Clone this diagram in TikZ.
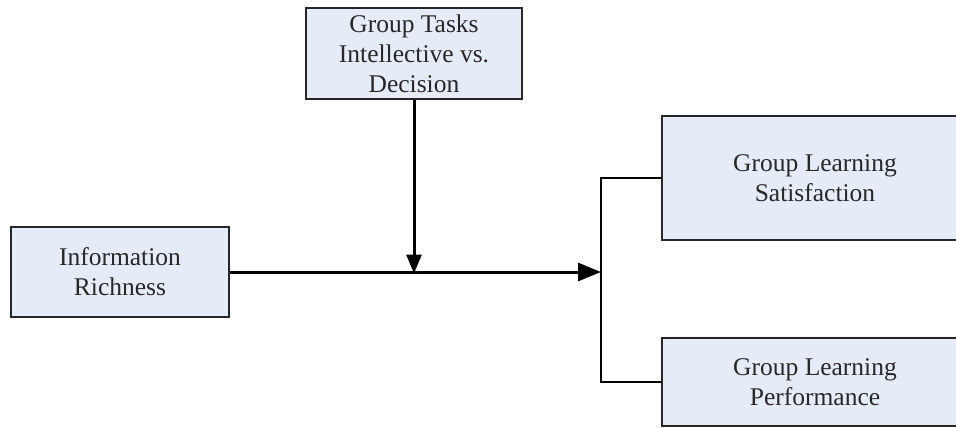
\documentclass[tikz,border=0pt]{standalone}
\usepackage{fontspec}
\setmainfont{Liberation Serif}
\usetikzlibrary{arrows.meta,positioning}

\definecolor{boxfill}{RGB}{230,236,247}
\definecolor{textgray}{RGB}{40,40,40}

\tikzset{
    factor/.style={draw=black!85, line width=1.6pt, fill=boxfill, text=textgray,
        align=center, inner sep=0pt, font=\fontsize{25.5}{30}\selectfont},
    mainarrow/.style={line width=3pt, -{Triangle[length=23pt,width=18pt]}},
    branch/.style={line width=1.6pt}
}

\begin{document}
\begin{tikzpicture}[x=1pt,y=-1pt]
    \useasboundingbox (0,0) rectangle (956,428);
    \clip (0,0) rectangle (956,428);

    \node[factor, minimum width=218pt, minimum height=90pt] (info) at (120,272) {Information\\Richness};
    \node[factor, minimum width=216pt, minimum height=91pt] (tasks) at (414,53.5) {Group Tasks\\Intellective vs.\\Decision};
    \node[factor, minimum width=306pt, minimum height=124pt] (satis) at (815,178) {Group Learning\\Satisfaction};
    \node[factor, minimum width=306pt, minimum height=88pt] (perf) at (815,382) {Group Learning\\Performance};

    \coordinate (junc) at (601,272);
    \coordinate (hit) at (tasks.south |- info.east);

    % main effect and moderator
    \draw[mainarrow] (info.east) -- (junc);
    \draw[mainarrow, -{Triangle[length=19pt,width=15pt]}] (tasks.south) -- ([yshift=-1.5pt]hit);

    % outcomes
    \draw[branch] (satis.west) -| (junc |- perf.west) -- (perf.west);
\end{tikzpicture}
\end{document}
